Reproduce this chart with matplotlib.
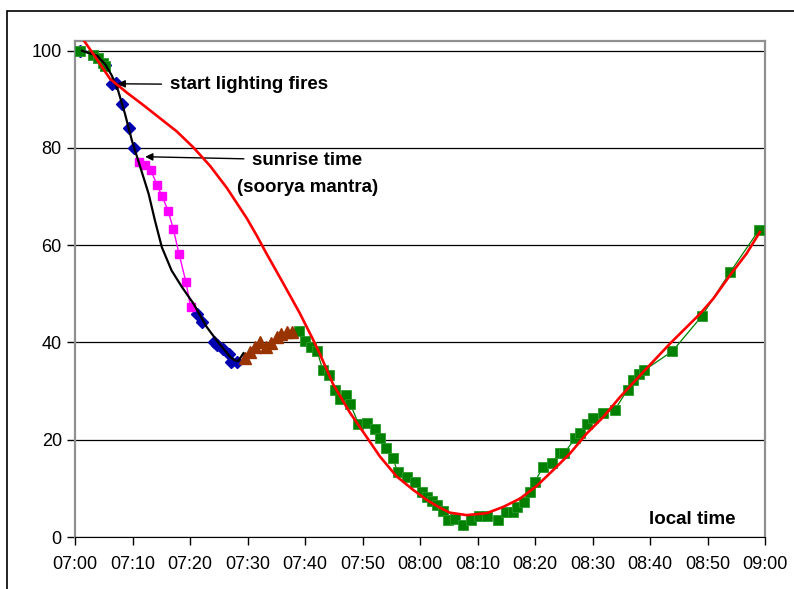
import matplotlib
matplotlib.use("Agg")
import matplotlib.pyplot as plt
from matplotlib.patches import Rectangle

plt.rcParams['font.family'] = ['Liberation Sans', 'DejaVu Sans']

# minutes after 07:00, reading
green_start_t = [0.9, 3.2, 4.0, 4.9, 5.3]
green_start_v = [100, 99.2, 98.5, 97.5, 96.8]

green_t = [39, 40, 41, 42.1, 43.1, 44.1, 45.2, 46.1, 47.1, 47.9, 49.3, 50.7,
           52.2, 53.0, 54.1, 55.3, 56.1, 57.7, 59.1, 60.3, 61.2, 62.1, 62.9,
           64.0, 64.9, 66.0, 67.4, 68.8, 70.2, 71.6, 73.5, 75.0, 76.2, 76.9,
           78.0, 79.1, 80.0, 81.4, 82.9, 84.3, 85.1, 87.0, 87.9, 89.0, 90.0,
           91.9, 93.9, 96.1, 97.0, 98.1, 99.0, 103.9, 109.0, 113.9, 119.0]
green_v = [42.4, 40.3, 39.1, 38.3, 34.3, 33.3, 30.3, 28.3, 29.3, 27.3, 23.3, 23.5,
           22.3, 20.3, 18.2, 16.2, 13.4, 12.4, 11.4, 9.3, 8.3, 7.4, 6.6,
           5.4, 3.5, 3.8, 2.4, 3.5, 4.4, 4.4, 3.5, 5.2, 5.2, 6.2,
           7.2, 9.3, 11.4, 14.4, 15.3, 17.2, 17.3, 20.3, 21.3, 23.3, 24.4,
           25.4, 26.2, 30.3, 32.2, 33.5, 34.3, 38.2, 45.4, 54.4, 63.2]

blue_t = [0.9, 5.3, 6.4, 7.2, 8.1, 9.4, 10.3, 21.2, 22.0, 24.1, 24.7, 25.8,
          26.7, 27.2, 28.2]
blue_v = [100, 97, 93.2, 93.3, 89, 84.1, 80, 45.9, 44.2, 40.1, 39.4, 38.7,
          37.7, 36, 36]

magenta_t = [11.2, 12.1, 13.2, 14.3, 15.1, 16.2, 17.1, 18.1, 19.3, 20.1, 21.2]
magenta_v = [77.2, 76.4, 75.4, 72.3, 70.2, 67.1, 63.3, 58.2, 52.4, 47.3, 45.9]

brown_t = [29.6, 30.4, 31.3, 32.2, 33.2, 34.0, 35.1, 35.9, 36.8, 37.7]
brown_v = [36.9, 38.0, 39.1, 40.1, 39.1, 39.9, 41.1, 41.8, 42.2, 42.2]

black_t = [1.2, 3.8, 5.2, 6.4, 7.5, 8.7, 9.9, 11.0, 12.8, 13.9, 15.1, 16.8,
           18.6, 20.6, 22.9, 24.6, 27.0, 27.8, 28.4, 29.3]
black_v = [100, 99, 97.3, 94.9, 91.8, 87, 81.5, 77.4, 70.6, 65.1, 59.6, 54.8,
           51.4, 48, 43.2, 40.5, 37, 36.3, 36.2, 37.8]

red_t = [1.0, 3.2, 6.1, 9.0, 11.9, 14.8, 17.7, 20.6, 23.5, 26.4, 29.9, 31.6,
         33.3, 36.2, 39.1, 41.4, 42.6, 44.9, 47.8, 50.7, 53.0, 55.9, 58.8,
         61.2, 63.5, 65.2, 68.1, 71.6, 74.5, 77.4, 80.3, 83.2, 86.1, 89.0,
         91.9, 94.8, 98.8, 103.5, 108.7, 111.0, 113.9, 116.8, 119.1]
red_v = [103, 99.3, 94.2, 91.4, 88.8, 86.1, 83.4, 80.1, 76.3, 71.8, 65.5, 62,
         58.3, 52.2, 46, 40.6, 37.6, 31.4, 25.6, 20.6, 16.6, 12.5, 9.7,
         7.6, 6.0, 5.0, 4.5, 4.9, 6.2, 7.9, 10.5, 13.8, 17.2, 21.3,
         24.7, 28.8, 33.9, 39.8, 45.9, 49.0, 53.8, 58.3, 62.7]

x_ticks = [0, 10, 20, 30, 40, 50, 60, 70, 80, 90, 100, 110, 120]
x_labels = ["07:00", "07:10", "07:20", "07:30", "07:40", "07:50", "08:00",
            "08:10", "08:20", "08:30", "08:40", "08:50", "09:00"]
y_ticks = [0, 20, 40, 60, 80, 100]

fig = plt.figure(figsize=(7.94, 5.89), dpi=100)
ax = fig.add_axes([75 / 794, 1 - 537 / 589, 690 / 794, 496 / 589])

# outer frame of the chart object
fig.patches.append(Rectangle((7 / 794, -0.2), 1.2, 1.2 - 11 / 589,
                             transform=fig.transFigure, fill=False,
                             edgecolor="black", linewidth=1.2, clip_on=False))

ax.set_xlim(0, 120)
ax.set_ylim(0, 102)
ax.set_yticks(y_ticks)
ax.set_xticks(x_ticks)
ax.set_xticklabels(x_labels)
ax.grid(axis="y", color="black", linewidth=0.9)
ax.set_axisbelow(True)
ax.tick_params(direction="out", length=6, width=1, labelsize=13, colors="black")
ax.tick_params(axis="x", pad=8)

for side in ("left", "top", "right"):
    ax.spines[side].set_color("#909090")
    ax.spines[side].set_linewidth(1.6)
ax.spines["bottom"].set_color("black")

gcol = "#008000"
ax.plot(green_t, green_v, color=gcol, lw=0.9, marker="s", ms=7.5,
        mfc=gcol, mec="#2a9a2a", mew=0.6, zorder=3)
ax.plot(blue_t, blue_v, linestyle="none", marker="D", ms=6, mfc="#0000B0",
        mec="#0000B0", zorder=3)
ax.plot(green_start_t, green_start_v, color=gcol, lw=0.9, marker="s", ms=7.5,
        mfc=gcol, mec="#2a9a2a", mew=0.6, zorder=3.5)
ax.plot(magenta_t[:-1], magenta_v[:-1], color="#FF00FF", lw=1, marker="s",
        ms=5.5, zorder=3)
ax.plot(magenta_t[-2:], magenta_v[-2:], color="#FF00FF", lw=1, zorder=2.9)
ax.plot(brown_t, brown_v, color="#993300", lw=0.8, linestyle="none",
        marker="^", ms=8, mec="#993300", mfc="#993300", zorder=3)
ax.plot(black_t, black_v, color="black", lw=1.6, zorder=4)
ax.plot(red_t, red_v, color="#FF0000", lw=1.9, zorder=5)

arrow = dict(arrowstyle="-|>", color="black", lw=1, mutation_scale=11,
             shrinkA=4, shrinkB=0)
ax.annotate("start lighting fires", xy=(7.4, 93.2), xytext=(16.5, 93.0),
            ha="left", va="center", fontsize=13.5, fontweight="bold",
            arrowprops=arrow)
ax.annotate("sunrise time", xy=(12.2, 78.2), xytext=(40.4, 77.5),
            ha="center", va="center", fontsize=13.5, fontweight="bold",
            arrowprops=arrow)
ax.text(40.5, 71.9, "(soorya mantra)", ha="center", va="center",
        fontsize=13.5, fontweight="bold")
ax.text(107.4, 3.7, "local time", ha="center", va="center", fontsize=13.5,
        fontweight="bold")

fig.savefig("out.png", dpi=100)
